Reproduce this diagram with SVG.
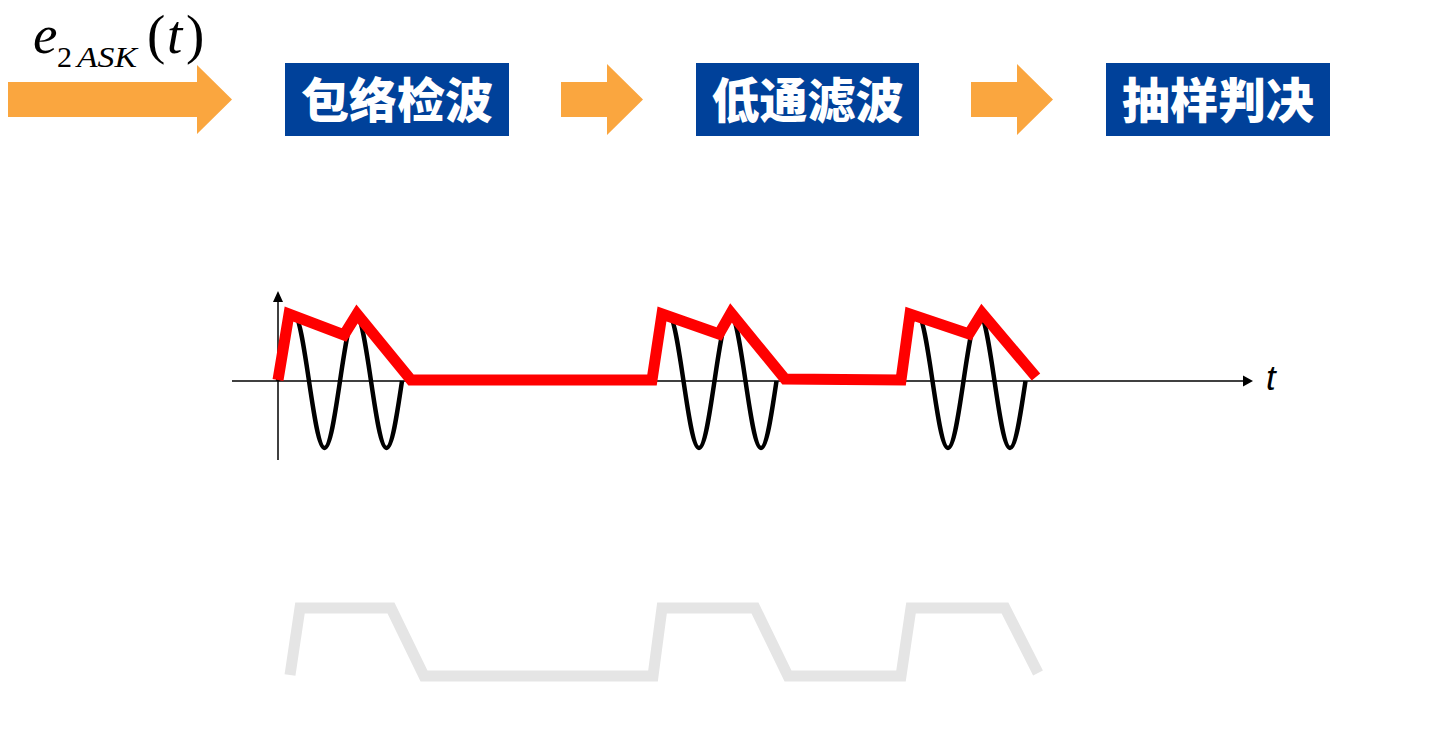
<svg xmlns="http://www.w3.org/2000/svg" width="1439" height="741" viewBox="0 0 1439 741">
<style>
.flow{fill:#FAA63F}
.box{fill:#00419A}
.lbl{fill:#fff;font-family:"Noto Sans CJK SC","Noto Sans",sans-serif;font-weight:900;font-size:48px;text-anchor:middle}
.math{font-family:"Liberation Serif","Times New Roman",serif;fill:#000}
.axis{stroke:#000;stroke-width:1.5;fill:none}
.carrier{stroke:#000;stroke-width:4.5;fill:none}
.env{stroke:#FF0000;stroke-width:11;fill:none;stroke-linejoin:miter;stroke-linecap:butt}
.lpf{stroke:#E5E5E5;stroke-width:11;fill:none;stroke-linejoin:miter;stroke-linecap:butt}
</style>
<defs>
<path id="burst" d="M0,0 c5.06,-34.3 9.89,-67 15.5,-67 c5.61,0 10.44,32.7 15.5,67 c5.06,34.3 9.89,67 15.5,67 c5.61,0 10.44,-32.7 15.5,-67 c5.06,-34.3 9.89,-67 15.5,-67 c5.61,0 10.44,32.7 15.5,67 c5.06,34.3 9.89,67 15.5,67 c5.61,0 10.44,-32.7 15.5,-67"/>
</defs>
<rect width="1439" height="741" fill="#fff"/>

<g id="input-label">
<text class="math" x="33" y="53" font-size="55" font-style="italic">e</text>
<text class="math" x="57" y="67" font-size="30">2</text>
<text class="math" x="77" y="67" font-size="30" font-style="italic" textLength="60" lengthAdjust="spacingAndGlyphs">ASK</text>
<text class="math" x="147" y="53" font-size="55">(</text>
<text class="math" x="167" y="53" font-size="55" font-style="italic">t</text>
<text class="math" x="186" y="53" font-size="55">)</text>
</g>

<g id="connectors">
<polygon class="flow" points="8,82 197,82 197,65 232,99.5 197,134 197,117 8,117"/>
<polygon class="flow" points="561,82 607,82 607,64 643,99.5 607,135 607,117 561,117"/>
<polygon class="flow" points="971,82 1017,82 1017,64 1053,99.5 1017,135 1017,117 971,117"/>
</g>

<g id="node-envelope">
<rect class="box" x="285" y="63" width="224" height="73"/>
<text class="lbl" x="397" y="118">包络检波</text>
</g>
<g id="node-lpf">
<rect class="box" x="696" y="63" width="223" height="73"/>
<text class="lbl" x="807.5" y="118">低通滤波</text>
</g>
<g id="node-sample">
<rect class="box" x="1106" y="63" width="224" height="73"/>
<text class="lbl" x="1218" y="118">抽样判决</text>
</g>

<g id="axes">
<line class="axis" x1="232" y1="381" x2="1245" y2="381"/>
<polygon points="1243,375.5 1253,381 1243,386.5" fill="#000"/>
<line class="axis" x1="278" y1="300" x2="278" y2="460"/>
<polygon points="273,302 278,291 283,302" fill="#000"/>
<text x="1266" y="390" font-family="Liberation Sans, Arial, sans-serif" font-style="italic" font-size="35" fill="#000">t</text>
</g>

<g id="carrier">
<use href="#burst" class="carrier" transform="translate(278,381)"/>
<use href="#burst" class="carrier" transform="translate(652.5,381)"/>
<use href="#burst" class="carrier" transform="translate(901.5,381)"/>
</g>

<g id="envelope">
<polyline class="env" points="278,380 289,314 344,335 357,314 411,380 652,380 662,314 719,334 731,313 785,379 901,380 910,314 969,334 982,313 1036,377"/>
</g>

<g id="lowpass-output">
<polyline class="lpf" points="290,675 300,608 391,608 424,676 653,676 662,608 755,608 788,676 901,676 911,608 1005,608 1038,673"/>
</g>
</svg>
